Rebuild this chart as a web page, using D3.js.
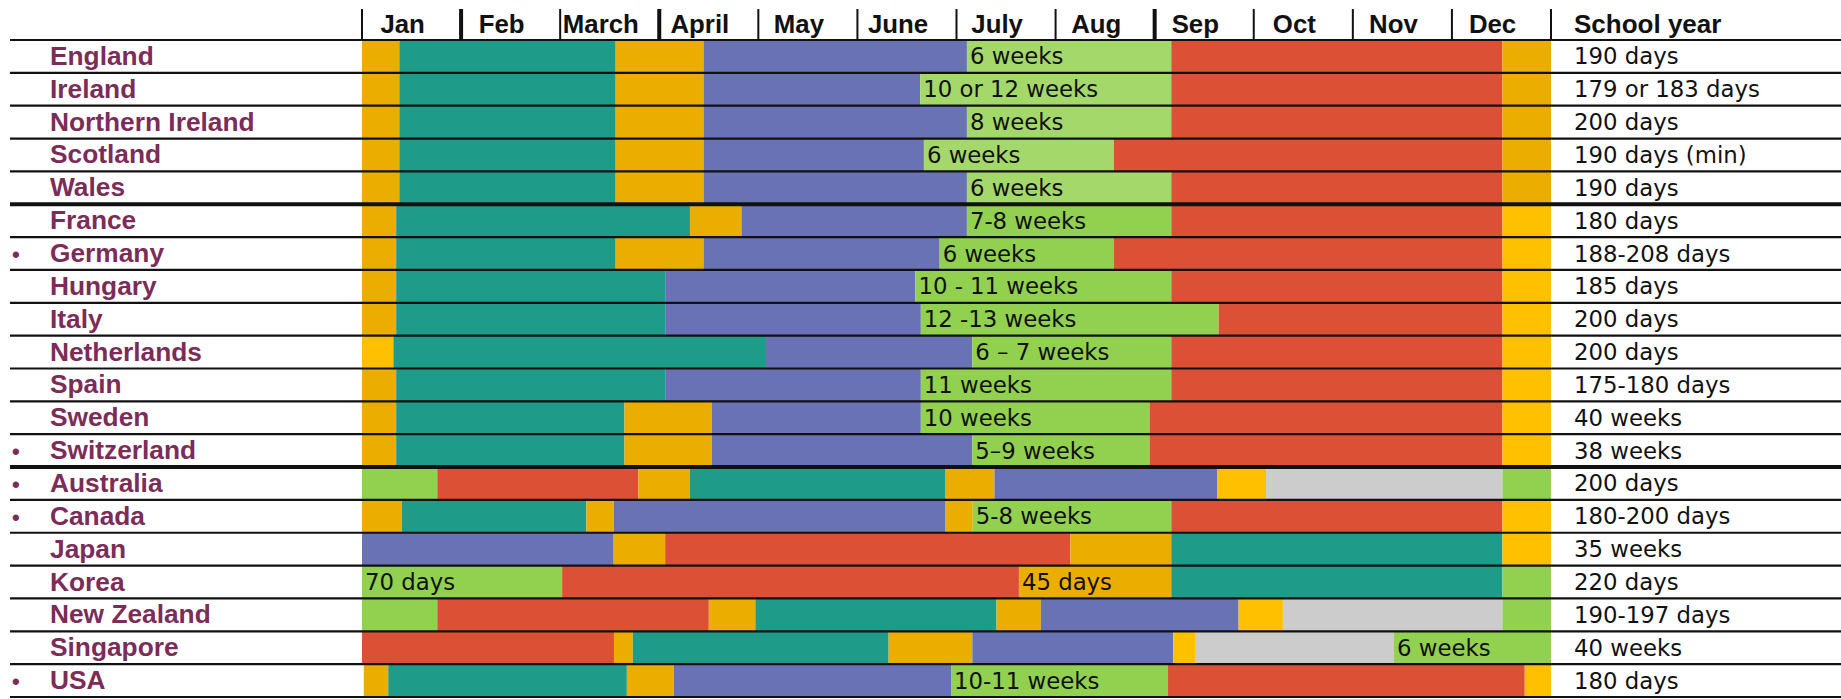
<!DOCTYPE html>
<html>
<head>
<meta charset="utf-8">
<script src="https://cdn.jsdelivr.net/npm/d3@7/dist/d3.min.js"></script>
<style>
  body { margin:0; background:#fff; }
</style>
</head>
<body>
<div id="chart"></div>
<script>
// countries, top to bottom
var countries = ["England","Ireland","Northern Ireland","Scotland","Wales",
  "France","Germany","Hungary","Italy","Netherlands","Spain","Sweden","Switzerland",
  "Australia","Canada","Japan","Korea","New Zealand","Singapore","USA"];
var bulleted = ["Germany","Switzerland","Australia","Canada","USA"];
var groupEnds = ["Wales","Switzerland"];

var months = ["Jan","Feb","March","April","May","June","July","Aug","Sep","Oct","Nov","Dec"];
var thickTicks = [1,3,8];

var schoolYear = ["190 days","179 or 183 days","200 days","190 days (min)","190 days",
  "180 days","188-208 days","185 days","200 days","200 days","175-180 days","40 weeks","38 weeks",
  "200 days","180-200 days","35 weeks","220 days","190-197 days","40 weeks","180 days"];

// each period: [end (months from 1 Jan), kind, label]
var periods = [
  [[0.377,"hol"],[2.56,"teal"],[3.447,"hol"],[6.105,"purple"],[8.168,"lgreen","6 weeks"],[11.51,"red"],[12,"hol"]],
  [[0.377,"hol"],[2.56,"teal"],[3.447,"hol"],[5.634,"purple"],[8.168,"lgreen","10 or 12 weeks"],[11.51,"red"],[12,"hol"]],
  [[0.377,"hol"],[2.56,"teal"],[3.447,"hol"],[6.105,"purple"],[8.168,"lgreen","8 weeks"],[11.51,"red"],[12,"hol"]],
  [[0.377,"hol"],[2.56,"teal"],[3.447,"hol"],[5.671,"purple"],[7.588,"lgreen","6 weeks"],[11.51,"red"],[12,"hol"]],
  [[0.377,"hol"],[2.56,"teal"],[3.447,"hol"],[6.105,"purple"],[8.168,"lgreen","6 weeks"],[11.51,"red"],[12,"hol"]],
  [[0.345,"hol"],[3.31,"teal"],[3.83,"hol"],[6.105,"purple"],[8.168,"green","7-8 weeks"],[11.51,"red"],[12,"yel"]],
  [[0.345,"hol"],[2.56,"teal"],[3.447,"hol"],[5.83,"purple"],[7.59,"green","6 weeks"],[11.51,"red"],[12,"yel"]],
  [[0.345,"hol"],[3.06,"teal"],[5.585,"purple"],[8.168,"green","10 - 11 weeks"],[11.51,"red"],[12,"yel"]],
  [[0.345,"hol"],[3.06,"teal"],[5.64,"purple"],[8.646,"green","12 -13 weeks"],[11.51,"red"],[12,"yel"]],
  [[0.317,"yel"],[4.077,"teal"],[6.16,"purple"],[8.168,"green","6 \u2013 7 weeks"],[11.51,"red"],[12,"yel"]],
  [[0.345,"hol"],[3.06,"teal"],[5.64,"purple"],[8.168,"green","11 weeks"],[11.51,"red"],[12,"yel"]],
  [[0.345,"hol"],[2.649,"teal"],[3.53,"hol"],[5.64,"purple"],[7.948,"green","10 weeks"],[11.51,"red"],[12,"yel"]],
  [[0.345,"hol"],[2.649,"teal"],[3.53,"hol"],[6.16,"purple"],[7.948,"green","5\u20139 weeks"],[11.51,"red"],[12,"yel"]],
  [[0.76,"green"],[2.79,"red"],[3.31,"hol"],[5.89,"teal"],[6.383,"hol"],[8.63,"purple"],[9.124,"yel"],[11.51,"gray"],[12,"green"]],
  [[0.404,"hol"],[2.264,"teal"],[2.543,"hol"],[5.89,"purple"],[6.164,"hol"],[8.168,"green","5-8 weeks"],[11.51,"red"],[12,"yel"]],
  [[2.54,"purple"],[3.06,"hol"],[7.149,"red"],[8.168,"hol"],[11.51,"teal"],[12,"yel"]],
  [[2.02,"green","70 days"],[6.63,"red"],[8.168,"hol","45 days"],[11.51,"teal"],[12,"green"]],
  [[0.76,"green"],[3.5,"red"],[3.97,"hol"],[6.404,"teal"],[6.851,"hol"],[8.847,"purple"],[9.294,"yel"],[11.51,"gray"],[12,"green"]],
  [[2.543,"red"],[2.733,"hol"],[5.315,"teal"],[6.16,"hol"],[8.187,"purple"],[8.415,"yel"],[10.416,"gray"],[12,"green","6 weeks"]],
  [[0.018,"none"],[0.265,"hol"],[2.673,"teal"],[3.147,"hol"],[5.945,"purple"],[8.135,"green","10-11 weeks"],[11.735,"red"],[12,"yel"]]
];

var colors = {hol:"#EBAE00", yel:"#FFC000", teal:"#1E9C89", purple:"#6A72B6",
  lgreen:"#A5D86B", green:"#92D050", red:"#DC5035", gray:"#CCCCCC", none:"none"};

var W = 1841, H = 699;
var boldFont = "'Liberation Sans', Arial, sans-serif";
var textFont = "'DejaVu Sans', sans-serif";

var svg = d3.select("#chart").append("svg").attr("width",W).attr("height",H);

var x = d3.scaleLinear().domain([0,12]).range([362,1551]);
var y = d3.scaleBand().domain(countries).range([40,697]);
var bh = y.bandwidth();

// flatten periods into start/end pieces
var pieces = [];
periods.forEach(function(row,i){
  var start = 0;
  row.forEach(function(p){
    pieces.push({country:countries[i], start:start, end:p[0], kind:p[1], label:p[2]});
    start = p[0];
  });
});

svg.append("g").selectAll("rect")
  .data(pieces.filter(function(d){ return d.kind != "none"; }))
  .join("rect")
  .attr("x", function(d){ return x(d.start); })
  .attr("y", function(d){ return y(d.country); })
  .attr("width", function(d){ return x(d.end)-x(d.start); })
  .attr("height", bh)
  .attr("fill", function(d){ return colors[d.kind]; });

svg.append("g").selectAll("text")
  .data(pieces.filter(function(d){ return d.label; }))
  .join("text")
  .attr("x", function(d){ return x(d.start)+3; })
  .attr("y", function(d){ return y(d.country)+bh/2+8; })
  .attr("style","font-family:"+textFont+";font-size:22.8px;fill:#111")
  .text(function(d){ return d.label; });

// row rules
var rules = [y.range()[0]].concat(countries.map(function(c){ return y(c)+bh; }));
svg.append("g").selectAll("line")
  .data(rules)
  .join("line")
  .attr("x1",10).attr("x2",W)
  .attr("y1",function(d){ return d; }).attr("y2",function(d){ return d; })
  .attr("stroke","#111")
  .attr("stroke-width",function(d,i){
    return (i>0 && groupEnds.indexOf(countries[i-1])>=0) ? 4 : 2.2;
  });

// header
svg.append("g").selectAll("line")
  .data(d3.range(13))
  .join("line")
  .attr("x1",function(d){ return x(d); }).attr("x2",function(d){ return x(d); })
  .attr("y1",9).attr("y2",40)
  .attr("stroke","#111")
  .attr("stroke-width",function(d){ return thickTicks.indexOf(d)>=0 ? 4 : 2; });

svg.append("g").selectAll("text")
  .data(months)
  .join("text")
  .attr("x",function(d,i){ return x(i+0.41); })
  .attr("y",33)
  .attr("text-anchor","middle")
  .attr("style","font-family:"+boldFont+";font-weight:bold;font-size:25.8px;fill:#111")
  .text(function(d){ return d; });

svg.append("text")
  .attr("x",1574).attr("y",33)
  .attr("style","font-family:"+boldFont+";font-weight:bold;font-size:26px;fill:#111")
  .text("School year");

// country names + bullets
var names = svg.append("g").selectAll("g")
  .data(countries)
  .join("g")
  .attr("transform",function(d){ return "translate(0,"+(y(d)+bh/2+8.5)+")"; });

names.append("text")
  .attr("x",50)
  .attr("style","font-family:"+boldFont+";font-weight:bold;font-size:26.3px;fill:#7B2C58")
  .text(function(d){ return d; });

names.filter(function(d){ return bulleted.indexOf(d)>=0; })
  .append("text")
  .attr("x",12)
  .attr("style","font-family:"+boldFont+";font-weight:bold;font-size:22px;fill:#7B2C58")
  .text("\u2022");

// school year column
svg.append("g").selectAll("text")
  .data(schoolYear)
  .join("text")
  .attr("x",1574)
  .attr("y",function(d,i){ return y(countries[i])+bh/2+8; })
  .attr("style","font-family:"+textFont+";font-size:22.8px;fill:#111")
  .text(function(d){ return d; });
</script>
</body>
</html>
